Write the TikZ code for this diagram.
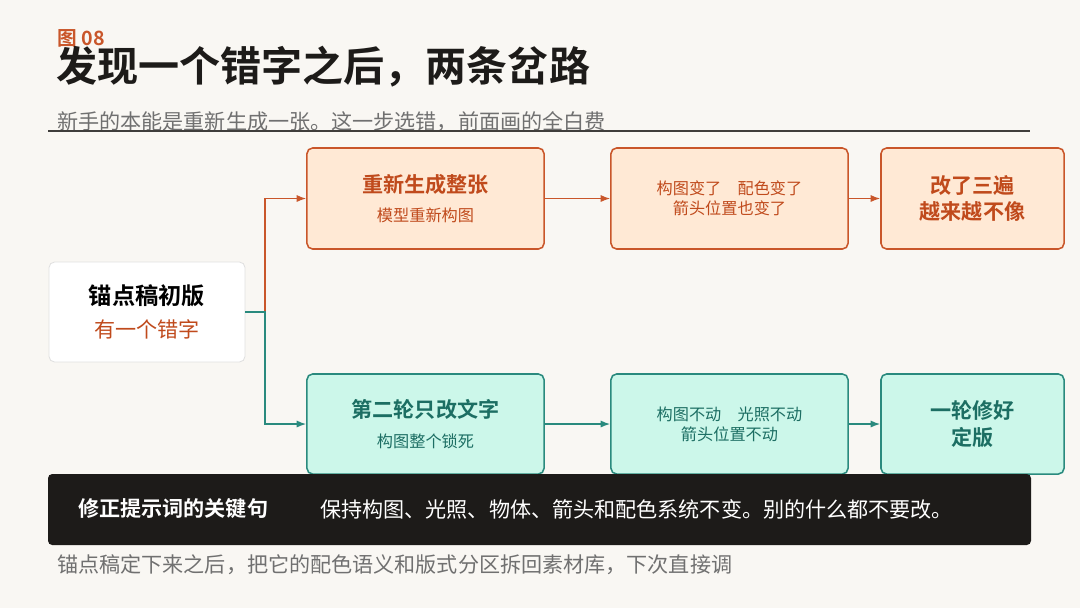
\documentclass[tikz,border=0pt]{standalone}
\usepackage{fontspec}
\setmainfont{Noto Sans CJK SC}[BoldFont={Noto Sans CJK SC Bold}]
\usepackage{xcolor}
\usepackage{tikz}
\usetikzlibrary{arrows.meta}
\definecolor{paper}{HTML}{F9F7F3}
\definecolor{rust}{HTML}{C9562A}
\definecolor{rusttext}{HTML}{C04A1C}
\definecolor{peach}{HTML}{FFE9D5}
\definecolor{teal}{HTML}{2A8A7E}
\definecolor{tealtext}{HTML}{1C6E63}
\definecolor{mint}{HTML}{CCF7EA}
\definecolor{ink}{HTML}{1D1B19}
\definecolor{muted}{HTML}{707070}
\newcommand{\fsz}[1]{\fontsize{#1}{1.25\dimexpr#1pt\relax}\selectfont}

\begin{document}
\begin{tikzpicture}[x=0.025cm,y=-0.025cm,
    box/.style={draw,rounded corners=4pt,line width=1.1pt,minimum height=2.5cm,align=center,inner sep=0pt},
    redobox/.style={box,draw=rust,fill=peach,text=rusttext},
    keepbox/.style={box,draw=teal,fill=mint,text=tealtext},
    flow/.style={line width=1pt,-{Latex[length=2.4mm,width=1.8mm]}}]
        \useasboundingbox[fill=paper] (0,0) rectangle (1080,608);
        % heading
        \node[anchor=west,inner sep=0pt,text=rust,font=\fsz{14}\bfseries] (tag) at (57,38) {图 08};
        \node[anchor=west,inner sep=0pt,text=ink,font=\fsz{29.2}\bfseries] (title) at (56,67) {发现一个错字之后，两条岔路};
        \node[anchor=west,inner sep=0pt,text=muted,font=\fsz{15}] (lede) at (57,122) {新手的本能是重新生成一张。这一步选错，前面画的全白费};
        \draw[line width=1.1pt,ink!85] (48,131) -- (1030,131);
        % start
        \node[box,draw=black!12,line width=0.6pt,fill=white,minimum width=4.9cm,font=\fsz{16.5}] (anchor) at (147,312)
            {\textbf{锚点稿初版}\\[2.7pt]{\fsz{15}\color{rusttext}有一个错字}};
        % redo path
        \node[redobox,minimum width=5.925cm,minimum height=2.525cm,font=\fsz{15}] (regen) at (425.5,198.5)
            {\textbf{重新生成整张}\\[2.3pt]{\fsz{11.5}模型重新构图}};
        \node[redobox,minimum width=5.925cm,minimum height=2.525cm,font=\fsz{11.5}] (drift) at (729.5,198.5)
            {构图变了\quad 配色变了\\箭头位置也变了};
        \node[redobox,minimum width=4.575cm,minimum height=2.525cm,font=\fsz{15}\bfseries] (worse) at (972.5,198.5)
            {改了三遍\\越来越不像};
        % keep path
        \node[keepbox,minimum width=5.925cm,font=\fsz{15}] (textfix) at (425.5,424)
            {\textbf{第二轮只改文字}\\[2.3pt]{\fsz{11.5}构图整个锁死}};
        \node[keepbox,minimum width=5.925cm,font=\fsz{11.5}] (locked) at (729.5,424)
            {构图不动\quad 光照不动\\箭头位置不动};
        \node[keepbox,minimum width=4.575cm,font=\fsz{15}\bfseries] (final) at (972.5,424)
            {一轮修好\\定版};
        % connectors
        \draw[flow,rust] (anchor.east) -- (265,312) |- (regen.west);
        \draw[flow,teal] (anchor.east) -- (265,312) |- (textfix.west);
        \draw[flow,rust] (regen) -- (drift);
        \draw[flow,rust] (drift) -- (worse);
        \draw[flow,teal] (textfix) -- (locked);
        \draw[flow,teal] (locked) -- (final);
        % key sentence bar
        \fill[ink,rounded corners=3pt] (48,474) rectangle (1031,545);
        \node[anchor=west,inner sep=0pt,text=white,font=\fsz{15}\bfseries] (keylabel) at (78,509) {修正提示词的关键句};
        \node[anchor=west,inner sep=0pt,text=white,font=\fsz{15}] (keytext) at (320,509) {保持构图、光照、物体、箭头和配色系统不变。别的什么都不要改。};
        \node[anchor=west,inner sep=0pt,text=muted,font=\fsz{15}] (footer) at (57,565) {锚点稿定下来之后，把它的配色语义和版式分区拆回素材库，下次直接调};
    \end{tikzpicture}
\end{document}
